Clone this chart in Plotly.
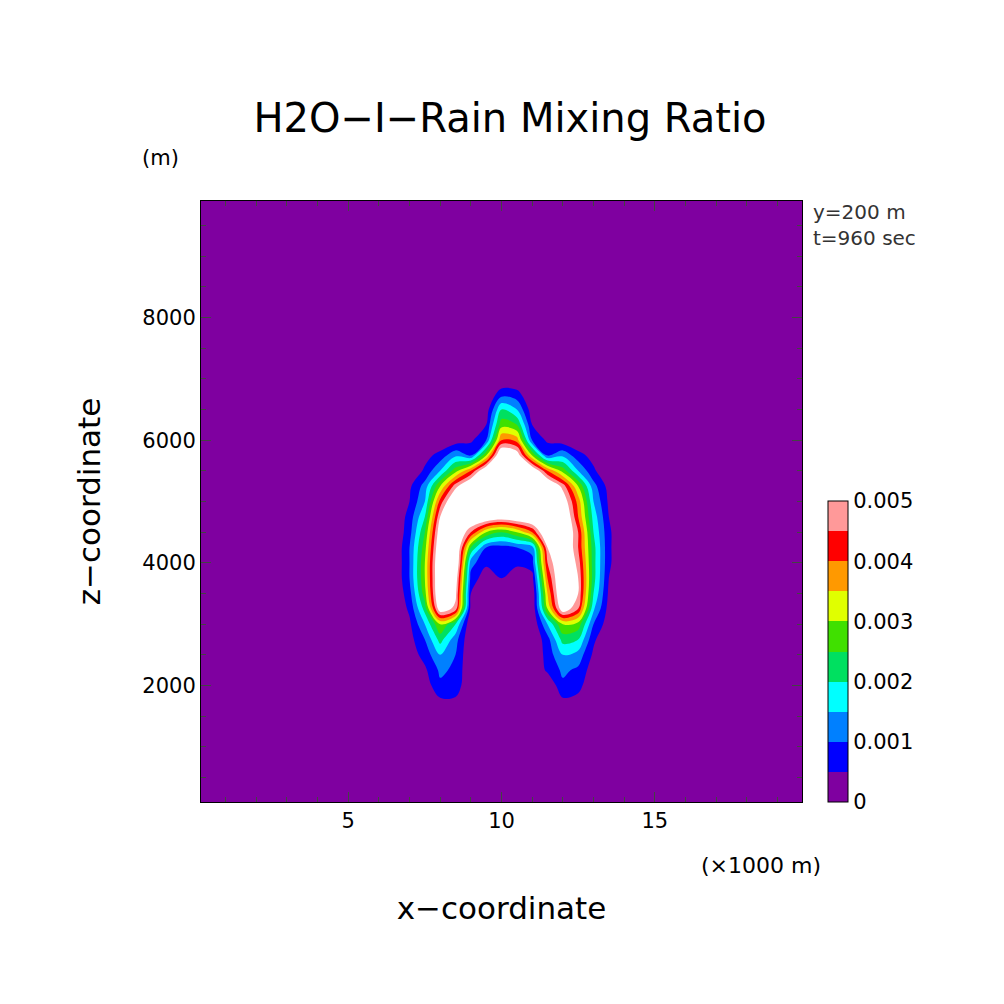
import numpy as np
import plotly.graph_objects as go

# x in km, z in m; values in units of 1e-4 kg/kg
x_km = [0.2, 6.5, 7.0, 7.5, 8.0, 8.5, 9.0, 9.5, 10.0, 10.5, 11.0, 11.5, 12.0, 12.5, 13.0, 13.5, 14.0, 19.8]
z_m = [100, 1500, 1750, 2000, 2250, 2500, 2750, 3000, 3250, 3500, 3750, 4000, 4250, 4500,
       4750, 5000, 5250, 5500, 5750, 6000, 6250, 6500, 6750, 7000, 9900]

# rows follow z_m, columns x_km[2:-2] (7.0 ... 13.5)
rain_rows = [
    [0, 0, 0, 0, 0, 0, 0, 0, 0, 0, 0, 0, 0, 0],        # 100
    [0, 0, 0, 0, 0, 0, 0, 0, 0, 0, 0, 0, 0, 0],        # 1500
    [0, 0, 4, 4, 0, 0, 0, 0, 0, 0, 4, 3, 0, 0],        # 1750
    [0, 2, 9, 8, 0, 0, 0, 0, 0, 0, 9, 7, 0, 0],        # 2000
    [0, 4, 11, 9, 0, 0, 0, 0, 0, 6, 11, 9, 2, 0],      # 2250
    [2, 7, 15, 10, 0, 0, 0, 0, 0, 7, 15, 13, 4, 0],    # 2500
    [3, 10, 22, 12, 0, 0, 0, 0, 0, 8, 22, 20, 6, 0],   # 2750
    [4, 15, 30, 20, 0, 0, 0, 0, 0, 15, 30, 28, 10, 2], # 3000
    [6, 22, 55, 48, 3, 0, 0, 0, 0, 30, 55, 45, 16, 3], # 3250
    [8, 28, 60, 52, 5, 0, 0, 0, 0, 35, 60, 50, 20, 4], # 3500
    [10, 30, 60, 55, 8, 2, 5, 2, 3, 40, 60, 50, 22, 5],  # 3750
    [10, 30, 60, 60, 12, 6, 6, 6, 8, 45, 60, 48, 22, 6], # 4000
    [10, 28, 58, 60, 25, 10, 8, 10, 12, 50, 60, 45, 22, 6],  # 4250
    [8, 25, 55, 60, 45, 30, 25, 30, 40, 60, 60, 45, 20, 6],  # 4500
    [7, 20, 50, 60, 60, 58, 55, 58, 60, 60, 60, 40, 18, 5],  # 4750
    [5, 15, 42, 60, 60, 60, 50, 60, 60, 60, 55, 38, 15, 4],  # 5000
    [4, 12, 30, 48, 60, 60, 55, 60, 60, 60, 48, 30, 12, 3],  # 5250
    [0, 6, 15, 28, 40, 58, 60, 60, 58, 40, 28, 15, 6, 0],    # 5500
    [0, 3, 7, 14, 10, 30, 60, 55, 30, 10, 14, 7, 3, 0],      # 5750
    [0, 0, 0, 2, 4, 10, 40, 38, 10, 4, 2, 0, 0, 0],          # 6000
    [0, 0, 0, 0, 0, 5, 28, 25, 5, 0, 0, 0, 0, 0],            # 6250
    [0, 0, 0, 0, 0, 2, 20, 15, 2, 0, 0, 0, 0, 0],            # 6500
    [0, 0, 0, 0, 0, 0, 8, 7, 0, 0, 0, 0, 0, 0],              # 6750
    [0, 0, 0, 0, 0, 0, 0, 0, 0, 0, 0, 0, 0, 0],              # 7000
    [0, 0, 0, 0, 0, 0, 0, 0, 0, 0, 0, 0, 0, 0],              # 9900
]

band_colors = ['#7f00a0', '#0000ff', '#0080ff', '#00ffff', '#00e060',
               '#40e000', '#e0ff00', '#ff9900', '#ff0000', '#ff9999', '#ffffff']

z = np.array([[0, 0] + r + [0, 0] for r in rain_rows], dtype=float) * 1e-4

n = len(band_colors)
scale = []
for i, c in enumerate(band_colors):
    scale += [[i / n, c], [(i + 1) / n, c]]

font = 'DejaVu Sans'
fig = go.Figure()
fig.add_trace(go.Contour(
    x=x_km, y=z_m, z=z,
    zmin=0, zmax=0.0055,
    colorscale=scale,
    contours=dict(start=0.0005, end=0.005, size=0.0005, coloring='fill'),
    line=dict(width=0),
    showscale=False,
))

# colorbar: 10 bands from 0 to 0.005
bar_scale = []
for i, c in enumerate(band_colors[:-1]):
    bar_scale += [[i / 10, c], [(i + 1) / 10, c]]
fig.add_trace(go.Heatmap(
    x=[0.2, 0.3], y=[100, 200], z=[[0, 0.005], [0, 0.005]],
    zmin=0, zmax=0.005, colorscale=bar_scale, opacity=0, hoverinfo='skip',
    colorbar=dict(
        x=1.043, xanchor='left', xpad=0, y=0, yanchor='bottom', ypad=0, len=0.5, lenmode='fraction',
        thickness=20, outlinewidth=1, outlinecolor='black',
        tickvals=[0, 0.001, 0.002, 0.003, 0.004, 0.005],
        ticktext=['0', '0.001', '0.002', '0.003', '0.004', '0.005'],
        ticks='', tickfont=dict(size=21, family=font, color='black'),
    ),
))

fig.update_xaxes(
    range=[0.2, 19.8], tickvals=[5, 10, 15], ticks='inside', ticklen=10, mirror='allticks',
    showline=True, linecolor='black', linewidth=1, showgrid=False, zeroline=False,
    minor=dict(dtick=1, tick0=0, ticks='inside', ticklen=5),
    tickfont=dict(size=21, family=font, color='black'),
    title=dict(text='x\u2212coordinate', font=dict(size=31, family=font, color='black'), standoff=65),
)
fig.update_yaxes(
    range=[100, 9900], tickvals=[2000, 4000, 6000, 8000], ticks='inside', ticklen=10, mirror='allticks',
    showline=True, linecolor='black', linewidth=1, showgrid=False, zeroline=False,
    minor=dict(dtick=500, tick0=0, ticks='inside', ticklen=5),
    tickfont=dict(size=21, family=font, color='black'),
    title=dict(text='z\u2212coordinate', font=dict(size=31, family=font, color='black'), standoff=32),
)
fig.update_layout(
    width=1004, height=1004,
    margin=dict(l=193, r=210, t=193, b=210, autoexpand=False),
    paper_bgcolor='white', plot_bgcolor='white',
    title=dict(text='H2O\u2212I\u2212Rain Mixing Ratio', x=0.5, xanchor='center', y=0.89, yanchor='middle',
               font=dict(size=40, family=font, color='black')),
    annotations=[
        dict(text='(m)', xref='paper', yref='paper', x=-0.068, y=1.072, xanchor='center', yanchor='middle',
             showarrow=False, font=dict(size=21, family=font, color='black')),
        dict(text='y=200 m<br>t=960 sec', xref='paper', yref='paper', x=1.015, y=1.005, xanchor='left',
             yanchor='top', align='left', showarrow=False, font=dict(size=20, family=font, color='#333')),
        dict(text='(\u00d71000 m)', xref='paper', yref='paper', x=1.035, y=-0.105, xanchor='right',
             yanchor='middle', showarrow=False, font=dict(size=22, family=font, color='black')),
    ],
)
fig.write_html('out.html')
